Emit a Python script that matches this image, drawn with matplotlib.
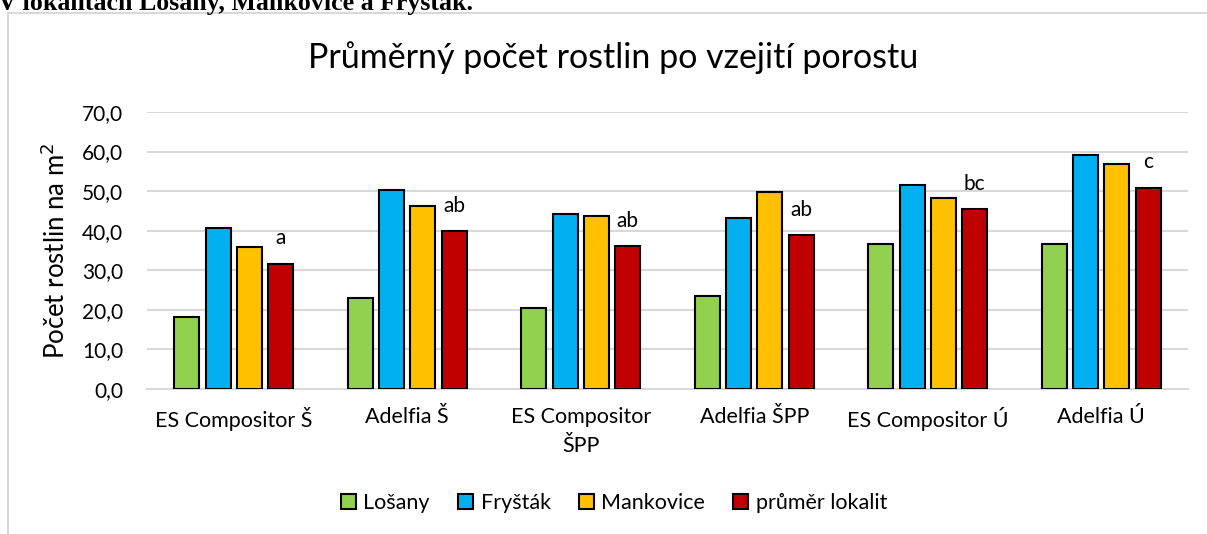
import matplotlib.pyplot as plt
from matplotlib.patches import Rectangle
import numpy as np

plt.rcParams['font.family'] = ['Lato', 'DejaVu Sans']

categories = ['ES Compositor Š', 'Adelfia Š', 'ES Compositor\nŠPP', 'Adelfia ŠPP', 'ES Compositor Ú', 'Adelfia Ú']
losany = [18.3, 23.1, 20.4, 23.5, 36.7, 36.7]
frystak = [40.8, 50.3, 44.2, 43.3, 51.6, 59.2]
mankovice = [35.9, 46.3, 43.8, 49.7, 48.3, 56.8]
prumer = [31.7, 39.9, 36.1, 38.8, 45.5, 50.9]
letters = ['a', 'ab', 'ab', 'ab', 'bc', 'c']

series = [('Lošany', losany, '#92D050'),
          ('Fryšták', frystak, '#00B0F0'),
          ('Mankovice', mankovice, '#FFC000'),
          ('průměr lokalit', prumer, '#C00000')]

W, H = 1207, 534
fig = plt.figure(figsize=(W / 100, H / 100), dpi=100)
ax = fig.add_axes([147 / W, 1 - 389 / H, (1188 - 147) / W, (389 - 112) / H])

# chart frame (cut by the page)
fig.patches.append(Rectangle((8 / W, -0.05), 1.1, 1 - 13 / H + 0.05, transform=fig.transFigure,
                             fill=False, edgecolor='#d9d9d9', linewidth=1.5))
fig.text(-2 / W, 1 - 10 / H, 'V lokalitách Lošany, Mankovice a Fryšták.', family='Liberation Serif',
         fontweight='bold', fontsize=18.6, va='baseline', ha='left')

x = np.arange(len(categories))
step, width = 0.18, 0.145
for i, (name, vals, col) in enumerate(series):
    ax.bar(x + (i - 1.5) * step, vals, width, color=col, edgecolor='black', linewidth=1.5,
           label=name, zorder=3)

for xi, v, t in zip(x, prumer, letters):
    ax.annotate(t, (xi + 1.5 * step, v), xytext=(0, 11), textcoords='offset points',
                ha='center', va='bottom', fontsize=15)

ax.set_xlim(-0.5, len(categories) - 0.5)
ax.set_ylim(0, 70)
ax.set_yticks(np.arange(0, 71, 10))
ax.set_yticklabels([f'{v:.1f}'.replace('.', ',') for v in np.arange(0, 71, 10)])
ax.set_xticks(x)
ax.set_xticklabels(categories, linespacing=1.55)
ax.tick_params(length=0, labelsize=15.5, colors='black')
ax.tick_params(axis='y', pad=17, labelsize=15)
ax.tick_params(axis='x', pad=13)
ax.grid(axis='y', color='#d9d9d9', linewidth=1.5, zorder=0)
for s in ['top', 'right', 'left']:
    ax.spines[s].set_visible(False)
ax.spines['bottom'].set_color('#d9d9d9')
ax.spines['bottom'].set_linewidth(1.5)

ax.set_ylabel('Počet rostlin na m$^2$', fontsize=18.5, labelpad=9)
fig.text(613 / W, 1 - 58 / H, 'Průměrný počet rostlin po vzejití porostu', ha='center', va='center', fontsize=24.5)

ax.legend(loc='center', bbox_to_anchor=(614 / W, 1 - 503 / H), bbox_transform=fig.transFigure,
          ncol=4, frameon=False, fontsize=15.5, handlelength=0.7, handleheight=0.7,
          handletextpad=0.35, columnspacing=1.3)

fig.savefig('out.png', dpi=100)
